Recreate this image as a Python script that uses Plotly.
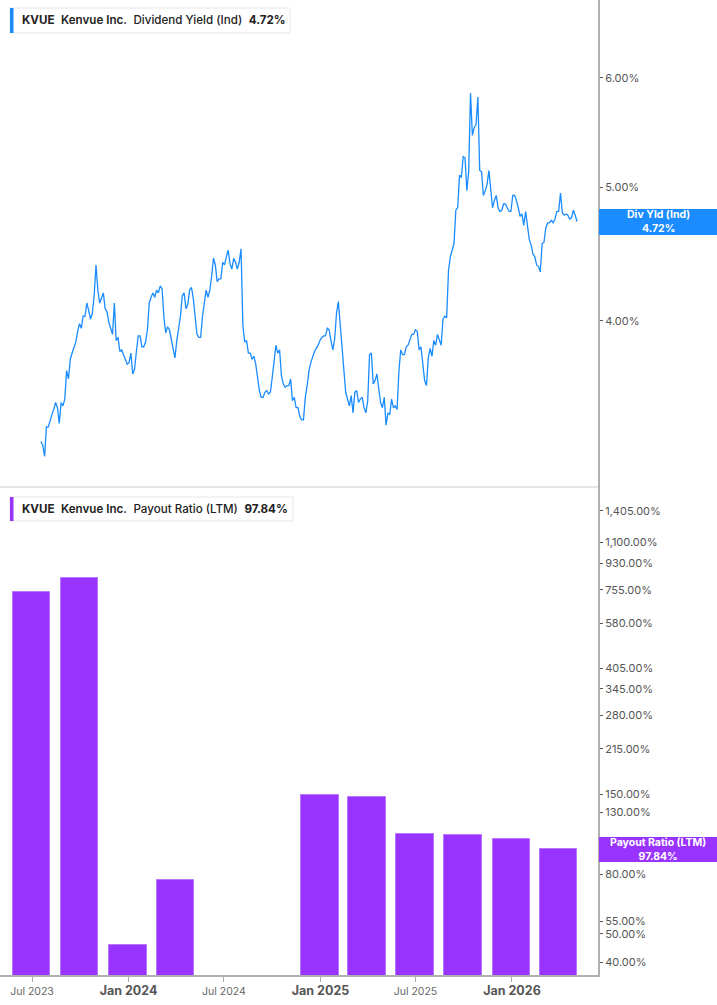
import pandas as pd
import plotly.graph_objects as go

# --- data ---
# dividend yield (%), read every 3.5 days starting 2023-07-18:
# the weekly reads and the mid-week reads in between
yield_start = "2023-07-18"
yield_weekly = [
    3.27, 3.19, 3.35, 3.42, 3.49, 3.37, 3.47, 3.68, 3.75, 3.82,
    3.93, 3.95, 4.03, 4.07, 4.05, 4.39, 4.12, 4.19, 4.06, 3.95,
    4.12, 3.89, 3.81, 3.74, 3.73, 3.66, 3.80, 3.90, 3.83, 3.94,
    4.16, 4.16, 4.19, 4.22, 3.92, 3.94, 3.81, 3.87, 4.03, 4.19,
    4.11, 4.23, 4.01, 3.89, 4.03, 4.21, 4.21, 4.44, 4.27, 4.29,
    4.39, 4.50, 4.36, 4.41, 4.41, 3.97, 3.87, 3.79, 3.77, 3.63,
    3.52, 3.55, 3.54, 3.64, 3.84, 3.81, 3.60, 3.59, 3.63, 3.52,
    3.46, 3.39, 3.52, 3.68, 3.77, 3.82, 3.87, 3.90, 3.95, 3.87,
    3.88, 4.13, 3.84, 3.55, 3.47, 3.43, 3.56, 3.51, 3.46, 3.50,
    3.79, 3.62, 3.57, 3.46, 3.36, 3.42, 3.46, 3.45, 3.81, 3.78,
    3.84, 3.91, 3.94, 3.81, 3.72, 3.59, 3.82, 3.87, 3.91, 3.84,
    4.03, 4.35, 4.50, 4.81, 5.10, 5.26, 4.97, 5.85, 5.52, 5.81,
    5.13, 4.97, 5.14, 4.83, 4.93, 4.80, 4.86, 4.83, 4.80, 4.93,
    4.83, 4.78, 4.80, 4.58, 4.47, 4.39, 4.34, 4.56, 4.71, 4.73,
    4.74, 4.80, 4.79, 4.78, 4.74, 4.81, 4.72,
]
yield_midweek = [
    3.25, 3.35, 3.39, 3.45, 3.46, 3.49, 3.51, 3.63, 3.79, 3.86,
    3.98, 4.03, 4.12, 4.01, 4.17, 4.21, 4.16, 4.08, 3.99, 3.91,
    3.87, 3.80, 3.78, 3.72, 3.79, 3.69, 3.90, 3.83, 3.86, 4.12,
    4.19, 4.21, 4.24, 4.02, 3.96, 3.87, 3.76, 3.96, 4.17, 4.08,
    4.21, 4.15, 3.91, 3.89, 4.12, 4.16, 4.31, 4.39, 4.29, 4.41,
    4.45, 4.40, 4.44, 4.36, 4.51, 3.86, 3.79, 3.75, 3.72, 3.56,
    3.52, 3.56, 3.55, 3.75, 3.79, 3.65, 3.58, 3.59, 3.50, 3.46,
    3.41, 3.39, 3.59, 3.73, 3.80, 3.84, 3.89, 3.90, 3.94, 3.81,
    4.05, 3.98, 3.67, 3.51, 3.53, 3.55, 3.49, 3.52, 3.43, 3.78,
    3.60, 3.66, 3.49, 3.52, 3.43, 3.51, 3.47, 3.68, 3.78, 3.83,
    3.87, 3.91, 3.93, 3.83, 3.62, 3.76, 3.77, 3.84, 3.87, 4.01,
    4.02, 4.45, 4.55, 4.83, 5.08, 5.25, 5.13, 5.45, 5.55, 5.14,
    4.93, 5.02, 4.99, 4.89, 4.83, 4.81, 4.86, 4.80, 4.93, 4.89,
    4.76, 4.69, 4.66, 4.54, 4.45, 4.38, 4.55, 4.67, 4.71, 4.71,
    4.80, 4.95, 4.77, 4.77, 4.75, 4.77,
]

payout_dates = ["2023-06-30", "2023-09-30", "2023-12-31", "2024-03-31",
                "2024-12-31", "2025-03-31", "2025-06-30", "2025-09-30",
                "2025-12-31", "2026-03-31"]
payout_values = [741, 828, 45.8, 76.4, 149.5, 147, 110, 109, 106, 97.84]

yield_ticks = [4, 5, 6]
payout_ticks = [40, 50, 55, 80, 100, 130, 150, 215, 280, 345, 405, 580, 755, 930, 1100, 1405]
x_ticks = ["2023-07-01", "2024-01-01", "2024-07-01", "2025-01-01", "2025-07-01", "2026-01-01"]

BLUE = "#1a8cff"
PURPLE = "#9933ff"
FONT = "Inter, Roboto, sans-serif"

# merge the two reads into one series
yield_values = []
for i, w in enumerate(yield_weekly):
    yield_values.append(w)
    if i < len(yield_midweek):
        yield_values.append(yield_midweek[i])
yield_dates = pd.date_range(yield_start, periods=len(yield_values), freq="84h")

# pixel helpers for the overlay boxes (plot area is 598 x 975 px)
W, H = 598, 975
def px(x):
    return x / W
def py(y):
    return (H - y) / H

fig = go.Figure()

fig.add_trace(go.Scatter(
    x=yield_dates, y=yield_values, mode="lines", yaxis="y2",
    line=dict(color=BLUE, width=1.3), showlegend=False,
))

fig.add_trace(go.Bar(
    x=pd.to_datetime(payout_dates), y=payout_values,
    marker=dict(color=PURPLE, line=dict(color="#b875ff", width=1)),
    width=71.5 * 86400000, showlegend=False,
))

def xlabel(d):
    t = pd.Timestamp(d)
    if t.month == 1:
        return f'<span style="font-size:12.5px;color:#555"><b>{t.strftime("%b %Y")}</b></span>'
    return t.strftime("%b %Y")

split = (H - 487) / H

fig.update_layout(
    width=717, height=1005,
    margin=dict(l=0, r=119, t=0, b=30),
    paper_bgcolor="white", plot_bgcolor="white",
    font=dict(family=FONT, color="#555"),
    bargap=0,
    xaxis=dict(
        type="date", range=["2023-05-01", "2026-06-14"],
        tickvals=x_ticks, ticktext=[xlabel(d) for d in x_ticks],
        tickfont=dict(size=10.5, color="#666"),
        ticks="outside", ticklen=5, tickcolor="#aaa",
        showline=True, linecolor="#b0b0b0", linewidth=2,
        showgrid=False, zeroline=False, anchor="y",
    ),
    yaxis=dict(
        type="log", domain=[0, split], range=[1.5575, 3.2299],
        side="right", tickvals=payout_ticks,
        ticktext=[f"{v:,.2f}%" for v in payout_ticks],
        tickfont=dict(size=11, color="#555"),
        ticks="outside", ticklen=3, tickcolor="#555",
        showline=True, linecolor="#b0b0b0", linewidth=2,
        showgrid=False, zeroline=False,
    ),
    yaxis2=dict(
        type="log", domain=[split, 1], range=[0.48158, 0.83448],
        side="right", anchor="x", tickvals=yield_ticks,
        ticktext=[f"{v:.2f}%" for v in yield_ticks],
        tickfont=dict(size=11, color="#555"),
        ticks="outside", ticklen=3, tickcolor="#555",
        showline=True, linecolor="#b0b0b0", linewidth=2,
        showgrid=False, zeroline=False,
    ),
)

shapes = [
    # panel divider
    dict(type="line", xref="paper", yref="paper", x0=0, x1=1, y0=split, y1=split,
         line=dict(color="#dddddd", width=1.5)),
    # legend boxes
    dict(type="rect", xref="paper", yref="paper", x0=px(10), x1=px(290), y0=py(33), y1=py(8),
         line=dict(color="#e6e6e6", width=1), fillcolor="white", layer="above"),
    dict(type="rect", xref="paper", yref="paper", x0=px(10), x1=px(13.5), y0=py(33), y1=py(8),
         line=dict(width=0), fillcolor=BLUE, layer="above"),
    dict(type="rect", xref="paper", yref="paper", x0=px(10), x1=px(293), y0=py(521), y1=py(497),
         line=dict(color="#e6e6e6", width=1), fillcolor="white", layer="above"),
    dict(type="rect", xref="paper", yref="paper", x0=px(10), x1=px(13.5), y0=py(521), y1=py(497),
         line=dict(width=0), fillcolor=PURPLE, layer="above"),
    # right-hand value tags
    dict(type="rect", xref="paper", yref="paper", x0=px(599), x1=px(717), y0=py(235), y1=py(209),
         line=dict(width=0), fillcolor=BLUE, layer="above"),
    dict(type="rect", xref="paper", yref="paper", x0=px(599), x1=px(717), y0=py(862), y1=py(837),
         line=dict(width=0), fillcolor=PURPLE, layer="above"),
]
fig.update_layout(shapes=shapes)

legend_fmt = ('<b>KVUE</b>&nbsp; <span style="font-weight:600">Kenvue Inc.</span>&nbsp; '
              '<span style="font-weight:500">{name}</span>&nbsp; <b>{val}</b>')

annotations = [
    dict(text=legend_fmt.format(name="Dividend Yield (Ind)", val=f"{yield_values[-1]:.2f}%"),
         x=px(20), y=py(20.5)),
    dict(text=legend_fmt.format(name="Payout Ratio (LTM)", val=f"{payout_values[-1]:.2f}%"),
         x=px(20), y=py(509)),
]
for a in annotations:
    a.update(xref="paper", yref="paper", xanchor="left", yanchor="middle", showarrow=False,
             font=dict(family=FONT, size=11.6, color="#222"))

annotations += [
    dict(text=f"<b>Div Yld (Ind)<br>{yield_values[-1]:.2f}%</b>", x=px(658), y=py(222)),
    dict(text=f"<b>Payout Ratio (LTM)<br>{payout_values[-1]:.2f}%</b>", x=px(658), y=py(849.5)),
]
for a in annotations[2:]:
    a.update(xref="paper", yref="paper", xanchor="center", yanchor="middle", showarrow=False,
             font=dict(family=FONT, size=10.5, color="white"))

fig.update_layout(annotations=annotations)

# drop the default 8px page margin so the figure fills the window
fig.write_html("out.html", config={"displayModeBar": False},
               post_script="document.body.style.margin='0';")
